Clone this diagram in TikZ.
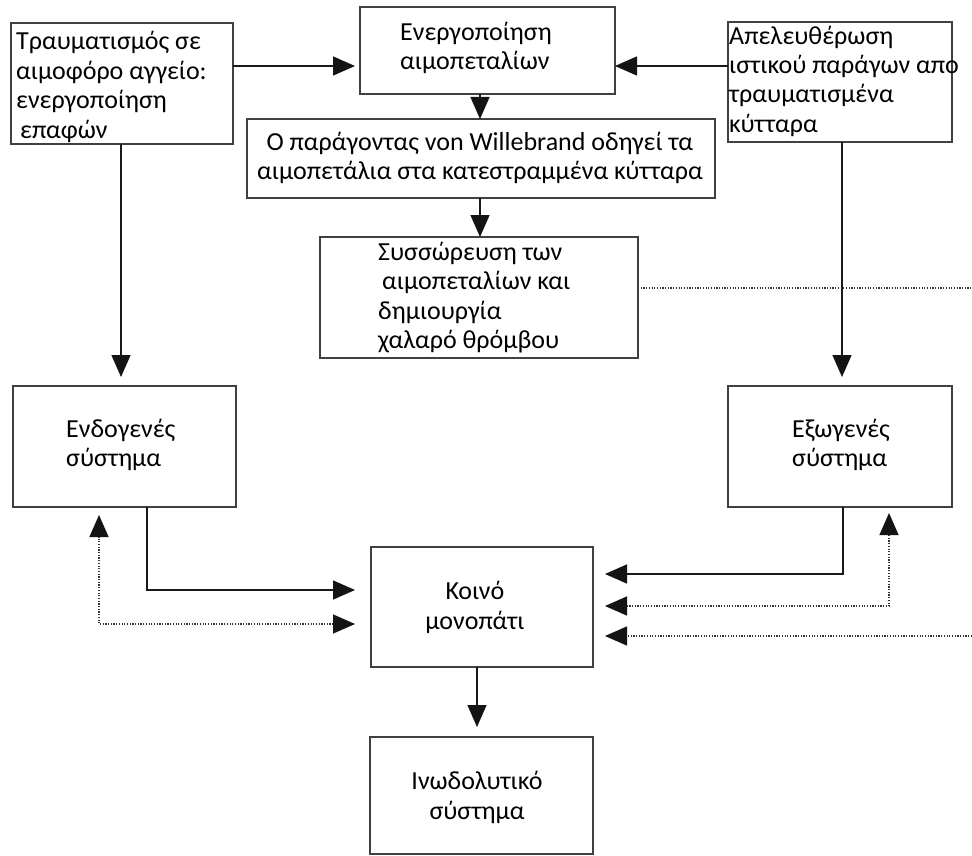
\documentclass[tikz,border=0pt]{standalone}
\usepackage{fontspec}
\setmainfont{Carlito}
\usetikzlibrary{arrows.meta}
\begin{document}
\begin{tikzpicture}[x=1pt,y=-1pt,
  box/.style={draw=black!75, line width=1.6pt, inner sep=0pt, outer sep=0pt},
  txt/.style={font=\fontsize{26}{29.5}\selectfont, inner sep=0pt, align=left, anchor=base west},
  ctxt/.style={font=\fontsize{26}{29.5}\selectfont, inner sep=0pt, align=center, anchor=base},
  head/.tip={Triangle[length=22pt,width=19pt,color=black!92]},
  tip/.style={-head},
  arr/.style={draw=black!90, line width=1.4pt, tip},
  dots/.style={draw=black!80, line width=1.3pt, dash pattern=on 1.2pt off 1.5pt},
  dotarr/.style={dots, head-head},
]
\fill[white] (0,0) rectangle (972,856);
\useasboundingbox (0,0) rectangle (972,856);

% boxes
\node[box, minimum width=222pt, minimum height=121pt] (A) at (122,83.5) {};
\node[box, minimum width=255pt, minimum height=87pt]  (B) at (487.5,50.5) {};
\node[box, minimum width=224pt, minimum height=120pt] (C) at (840,82) {};
\node[box, minimum width=468pt, minimum height=79pt]  (D) at (481,158.5) {};
\node[box, minimum width=318pt, minimum height=121pt] (E) at (479,297.5) {};
\node[box, minimum width=223pt, minimum height=121pt] (F) at (124.5,446.5) {};
\node[box, minimum width=222pt, minimum height=120pt] (G) at (482,607) {};
\node[box, minimum width=224pt, minimum height=121pt] (H) at (840,446.5) {};
\node[box, minimum width=223pt, minimum height=117pt] (I) at (481.5,795.5) {};

% box texts (each placed by the baseline of its last line)
\node[txt] (At) at (16,138.5) {Τραυματισμός σε\\αιμοφόρο αγγείο:\\ενεργοποίηση\\\hspace*{4pt}επαφών};
\node[txt] (Bt) at (400,70) {Ενεργοποίηση\\αιμοπεταλίων};
\node[txt] (Ct) at (729,132.5) {Απελευθέρωση\\ιστικού παράγων απο\\τραυματισμένα\\κύτταρα};
\node[ctxt] (Dt) at (480,179.5) {Ο παράγοντας von Willebrand οδηγεί τα\\αιμοπετάλια στα κατεστραμμένα κύτταρα};
\node[txt] (Et) at (378,348.5) {Συσσώρευση των\\\hspace*{4pt}αιμοπεταλίων και\\δημιουργία\\χαλαρό θρόμβου};
\node[txt] (Ft) at (66,466.5) {Ενδογενές\\σύστημα};
\node[txt] (Ht) at (792,466.5) {Εξωγενές\\σύστημα};
\node[ctxt] (Gt) at (475,629) {Κοινό\\μονοπάτι};
\node[ctxt] (It) at (477,819) {Ινωδολυτικό\\σύστημα};

% free ends at the right border
\coordinate (rimE) at (972,288);
\coordinate (rimG) at (972,636);

% connectors
\draw[arr, shorten >=5pt] (A.east |- 0,66) -- (B.west |- 0,66);
\draw[arr] (C.west |- 0,66) -- (B.east |- 0,66);
\draw[arr] (B.south -| 480,0) -- (D.north -| 480,0);
\draw[arr] (D.south -| 480,0) -- (E.north -| 480,0);
\draw[arr, shorten >=9pt] (A.south -| 121,0) -- (F.north -| 121,0);
\draw[arr, shorten >=9pt] (C.south -| 842,0) -- (H.north -| 842,0);
\draw[arr, shorten >=16pt] (F.south -| 147,0) |- (G.west |- 0,590);
\draw[dotarr, shorten <=16pt, shorten >=8pt] (G.west |- 0,624) -| (F.south -| 99,0);
\draw[arr, shorten >=12pt] (H.south -| 843,0) |- (G.east |- 0,574);
\draw[dotarr, shorten <=12pt, shorten >=6pt] (G.east |- 0,606) -| (H.south -| 889,0);
\draw[dots] (E.east |- rimE) -- (rimE);
\draw[dots, tip, shorten >=12pt] (rimG) -- (G.east |- rimG);
\draw[arr, shorten >=10pt] (G.south -| 477,0) -- (I.north -| 477,0);
\end{tikzpicture}
\end{document}
